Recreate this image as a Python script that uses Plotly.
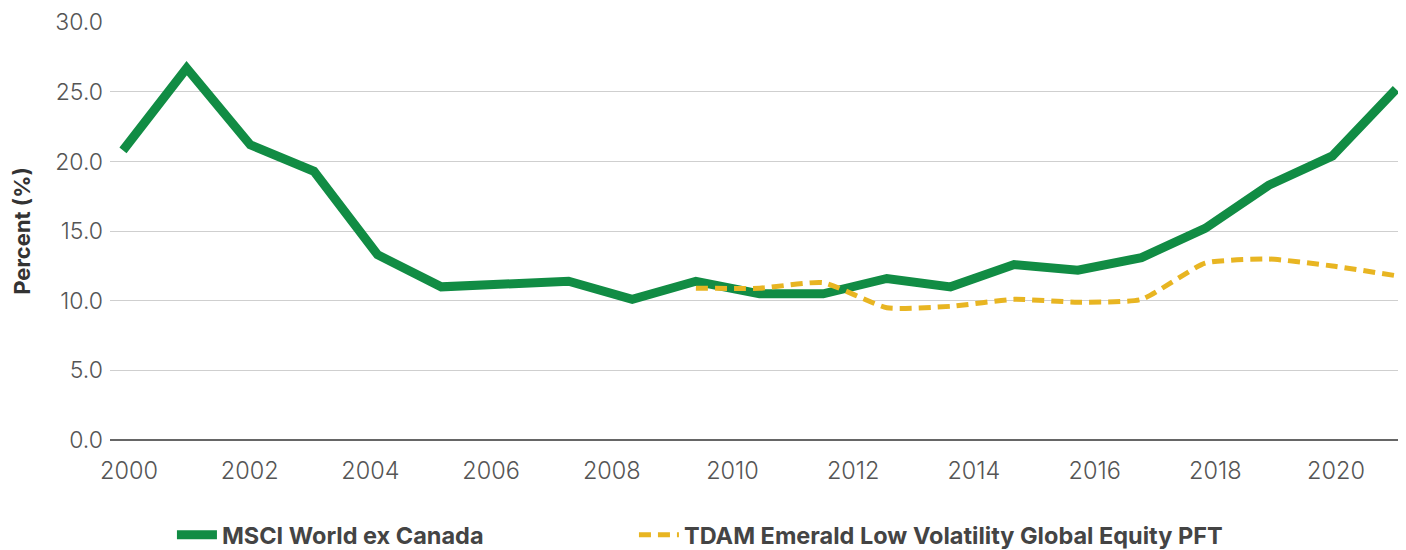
import plotly.graph_objects as go

# Data (21 annual observations)
obs_years = list(range(2000, 2021))
msci = [20.8, 26.7, 21.2, 19.3, 13.3, 11.0, 11.2, 11.4, 10.1, 11.4, 10.5,
        10.5, 11.6, 11.0, 12.6, 12.2, 13.1, 15.2, 18.3, 20.4, 25.2]
tdam = [None] * 9 + [10.9, 10.9, 11.3, 9.5, 9.6, 10.1, 9.9, 10.1, 12.7,
                     13.0, 12.5, 11.8]
tick_years = list(range(2000, 2021, 2))
y_ticks = [0, 5, 10, 15, 20, 25, 30]

GREEN = "#118C44"
YELLOW = "#E8B522"
TXT = "#444444"
LEGEND_FONT = dict(size=23.5, color=TXT, weight="bold", family="Inter, sans-serif")

fig = go.Figure()
fig.add_trace(go.Scatter(
    x=obs_years, y=msci, name="MSCI World ex Canada", mode="lines",
    line=dict(color=GREEN, width=9), xaxis="x", yaxis="y", legend="legend"))
fig.add_trace(go.Scatter(
    x=obs_years, y=tdam, name="TDAM Emerald Low Volatility Global Equity PFT",
    mode="lines", line=dict(color=YELLOW, width=5, dash="12px,7px",
                            shape="spline", smoothing=0.5),
    connectgaps=False, xaxis="x", yaxis="y", legend="legend2"))
# invisible trace so the year-label axis renders
fig.add_trace(go.Scatter(x=[2000], y=[None], xaxis="x2", yaxis="y",
                         showlegend=False, hoverinfo="skip"))

fig.update_layout(
    width=1406, height=550,
    margin=dict(l=102, r=16, t=14, b=118, autoexpand=False),
    paper_bgcolor="white", plot_bgcolor="white",
    font=dict(family="Inter, Roboto, sans-serif", color=TXT),
    showlegend=True,
    legend=dict(orientation="h", xref="container", yref="container",
                x=0.1166, xanchor="left", y=0.0418, yanchor="middle",
                font=LEGEND_FONT, itemwidth=40),
    legend2=dict(orientation="h", xref="container", yref="container",
                 x=0.4452, xanchor="left", y=0.0418, yanchor="middle",
                 font=LEGEND_FONT, itemwidth=40),
    xaxis=dict(range=[1999.796, 2020.03], visible=False, fixedrange=True),
    xaxis2=dict(range=[1999.685, 2021.027], overlaying="x", side="bottom",
                anchor="y", tickmode="array", tickvals=tick_years,
                ticktext=[str(t) for t in tick_years],
                showgrid=False, zeroline=False, showline=False,
                ticks="", ticklabelstandoff=14, ticklabeloverflow="allow",
                tickfont=dict(size=23.5, color="#555555", weight=300)),
    yaxis=dict(range=[0, 30.02], tickvals=y_ticks,
               ticktext=[f"{v:.1f}" for v in y_ticks],
               showgrid=True, gridcolor="#CFCFCF", gridwidth=1,
               zeroline=True, zerolinecolor="#666666", zerolinewidth=2,
               showline=False, ticks="", ticklabelstandoff=6,
               ticklabeloverflow="allow",
               tickfont=dict(size=23, color="#555555", weight=300),
               title=dict(text="Percent (%)", standoff=18,
                          font=dict(size=22, color="#333333", weight="bold",
                                    family="Inter, sans-serif"))),
)

fig.write_html("out.html")
